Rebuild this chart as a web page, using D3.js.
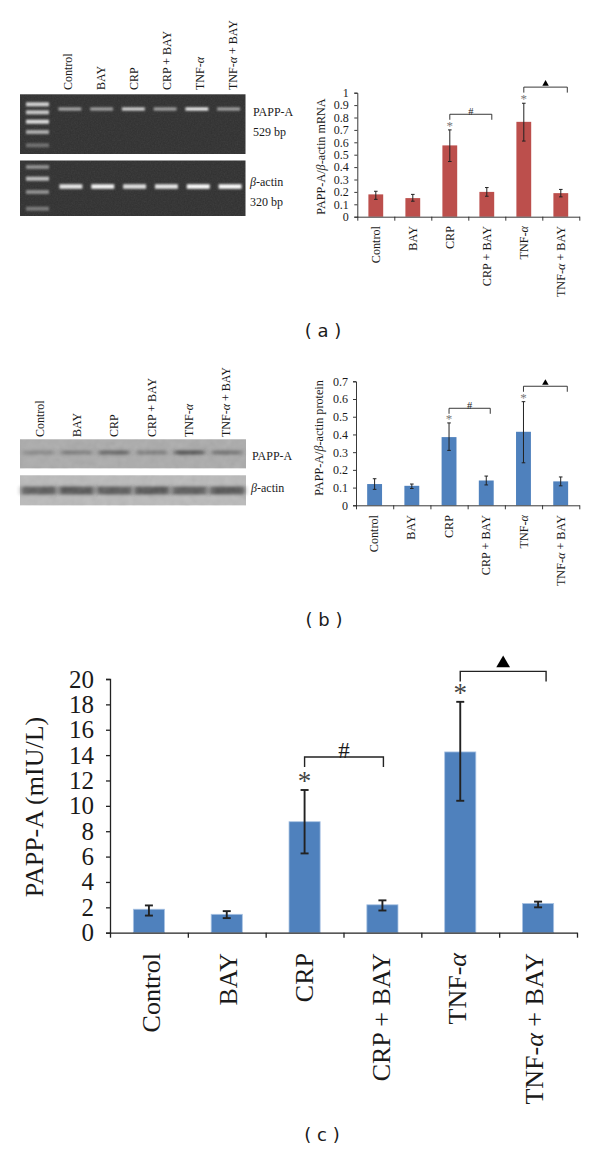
<!DOCTYPE html>
<html>
<head>
<meta charset="utf-8">
<script src="https://cdn.jsdelivr.net/npm/d3@7"></script>
<style>
  html, body { margin: 0; padding: 0; background: #fff; }
  svg { display: block; }
  text { font-family: "Liberation Serif", serif; fill: #1a1a1a; }
  .caption { font-family: "DejaVu Sans", sans-serif; }
</style>
</head>
<body>
<div id="chart"></div>
<script>
// categories, the tspans handle the italic greek letters
var categories = ["Control", "BAY", "CRP", "CRP + BAY", "TNF-α", "TNF-α + BAY"];

// (a) mRNA
var mrnaValues = [0.18, 0.15, 0.575, 0.2, 0.765, 0.19];
var mrnaHigh   = [0.205, 0.18, 0.70, 0.235, 0.915, 0.22];
var mrnaLow    = [0.14, 0.125, 0.445, 0.165, 0.61, 0.16];
var mrnaTicks  = [0, 0.1, 0.2, 0.3, 0.4, 0.5, 0.6, 0.7, 0.8, 0.9, 1];

// (b) protein
var proteinValues = [0.12, 0.11, 0.385, 0.14, 0.415, 0.135];
var proteinHigh   = [0.15, 0.12, 0.465, 0.165, 0.585, 0.16];
var proteinLow    = [0.09, 0.095, 0.31, 0.115, 0.24, 0.11];
var proteinTicks  = [0, 0.1, 0.2, 0.3, 0.4, 0.5, 0.6, 0.7];

// (c) elisa
var elisaValues = [1.85, 1.45, 8.75, 2.2, 14.25, 2.3];
var elisaHigh   = [2.15, 1.7, 11.25, 2.55, 18.2, 2.45];
var elisaLow    = [1.35, 1.15, 6.25, 1.75, 10.4, 2.0];
var elisaTicks  = [0, 2, 4, 6, 8, 10, 12, 14, 16, 18, 20];

// band intensity per lane, 0 to 1
var gelPappBands  = [0.45, 0.4, 0.8, 0.4, 1, 0.4];
var gelActinBands = [0.85, 0.95, 0.8, 0.85, 1, 1];
var ladderTop     = [0.8, 0.75, 0.85, 0.6, 0.3];
var ladderBottom  = [0.45, 0.7, 0.45, 0.35];
var blotPappBands  = [0.3, 0.42, 0.6, 0.42, 0.8, 0.5];
var blotActinBands = [0.7, 0.75, 0.7, 0.75, 0.7, 0.75];

var svg = d3.select("#chart").append("svg")
    .attr("width", 600)
    .attr("height", 1151);

var defs = svg.append("defs");
defs.append("filter").attr("id", "soft").attr("x", "-20%").attr("y", "-150%").attr("width", "140%").attr("height", "400%")
    .append("feGaussianBlur").attr("stdDeviation", "1.1 0.9");
defs.append("filter").attr("id", "softer").attr("x", "-20%").attr("y", "-100%").attr("width", "140%").attr("height", "300%")
    .append("feGaussianBlur").attr("stdDeviation", "2.5 1.6");

function grainFilter(id, freq) {
    var f = defs.append("filter").attr("id", id).attr("x", "0").attr("y", "0").attr("width", "100%").attr("height", "100%");
    f.append("feTurbulence").attr("type", "fractalNoise").attr("baseFrequency", freq).attr("numOctaves", 2).attr("seed", 4);
    f.append("feColorMatrix").attr("type", "saturate").attr("values", 0);
}
grainFilter("fine", 0.7);
grainFilter("mottled", 0.12);

// writes a label with the alpha or beta in italic
function richText(sel, label, greek) {
    var parts = label.split(greek);
    sel.append("tspan").text(parts[0]);
    sel.append("tspan").attr("font-style", "italic").text(greek);
    sel.append("tspan").text(parts[1]);
}

function catLabel(sel, d) {
    if (d.indexOf("α") >= 0) richText(sel, d, "α");
    else sel.text(d);
}

function drawBars(o) {
    var x = d3.scaleBand().domain(categories).range([o.x0, o.x1]).paddingInner(0.6).paddingOuter(0.3);
    var y = d3.scaleLinear().domain([0, o.ticks[o.ticks.length - 1]]).range([o.y0, o.y1]);
    var g = svg.append("g");

    g.selectAll("rect.bar").data(categories).enter().append("rect")
        .attr("class", "bar")
        .attr("x", d => x(d))
        .attr("width", x.bandwidth())
        .attr("y", (d, i) => y(o.values[i]))
        .attr("height", (d, i) => o.y0 - y(o.values[i]))
        .attr("fill", o.color)
        .attr("stroke", o.edge || "none")
        .attr("stroke-width", 0.8);

    // error bars
    var err = g.append("g").attr("stroke", "#222").attr("stroke-width", o.errWidth).attr("fill", "none");
    categories.forEach(function(c, i) {
        var cx = x(c) + x.bandwidth() / 2;
        err.append("line").attr("x1", cx).attr("x2", cx).attr("y1", y(o.high[i])).attr("y2", y(o.low[i]));
        err.append("line").attr("x1", cx - o.cap).attr("x2", cx + o.cap).attr("y1", y(o.high[i])).attr("y2", y(o.high[i]));
        err.append("line").attr("x1", cx - o.cap).attr("x2", cx + o.cap).attr("y1", y(o.low[i])).attr("y2", y(o.low[i]));
    });

    // y axis
    var yAxis = g.append("g").attr("transform", "translate(" + o.x0 + ",0)")
        .call(d3.axisLeft(y).tickValues(o.ticks).tickFormat(d3.format("")).tickSize(o.tick).tickPadding(o.pad));
    yAxis.selectAll("text").attr("font-size", o.tickFont).attr("font-family", "Liberation Serif").style("fill", "#1a1a1a");

    // x axis, ticks go between the bars so it runs on the band edges
    var edge = d3.scaleLinear().domain([0, categories.length]).range([o.x0, o.x1]);
    g.append("g").attr("transform", "translate(0," + o.y0 + ")")
        .call(d3.axisBottom(edge).tickValues(d3.range(0, categories.length + 1)).tickFormat("").tickSizeOuter(0).tickSizeInner(o.tick + 1));
    g.selectAll("path.domain, .tick line").attr("stroke", "#222").attr("stroke-width", o.axisWidth);

    // the labels sit a bit off the bar centres
    var catX = d3.scalePoint().domain(categories).range([o.catX0, o.catX1]);
    g.selectAll("text.cat").data(categories).enter().append("text")
        .attr("class", "cat")
        .attr("font-size", o.catFont)
        .attr("text-anchor", "end")
        .attr("transform", d => "translate(" + catX(d) + "," + (o.y0 + o.catGap) + ") rotate(-90)")
        .each(function(d) { catLabel(d3.select(this), d); });

    // y title
    var title = g.append("text")
        .attr("font-size", o.titleFont)
        .attr("text-anchor", "middle")
        .attr("transform", "translate(" + o.titleX + "," + o.titleY + ") rotate(-90)");
    if (o.title.indexOf("β") >= 0) richText(title, o.title, "β");
    else title.text(o.title);

    // significance brackets
    o.brackets.forEach(function(b) {
        var xa = x(categories[b.from]) + x.bandwidth() / 2,
            xb = x(categories[b.to]) + x.bandwidth() / 2 + b.end;
        var top = y(b.level), drop = top + o.drop;
        g.append("path")
            .attr("d", "M" + xa + "," + drop + "V" + top + "H" + xb + "V" + drop)
            .attr("fill", "none").attr("stroke", "#222").attr("stroke-width", o.bracketWidth);
        var midx = (xa + xb) / 2;
        if (b.mark == "#") {
            g.append("text").attr("x", midx).attr("y", top + o.hashDy).attr("text-anchor", "middle")
                .attr("font-size", o.hashFont).text("#");
        } else {
            g.append("path")
                .attr("d", d3.symbol(d3.symbolTriangle, o.triSize))
                .attr("transform", "translate(" + midx + "," + (top - o.triDy) + ")")
                .attr("fill", "#000");
        }
        g.append("text").attr("x", xa).attr("y", y(b.star)).attr("text-anchor", "middle")
            .attr("font-size", o.starFont).style("fill", o.starColor).text("*");
    });
}

drawBars({
    values: mrnaValues, high: mrnaHigh, low: mrnaLow, ticks: mrnaTicks,
    color: "#bc4f4c", title: "PAPP-A/β-actin mRNA",
    x0: 357.3, x1: 579.3, y0: 216.7, y1: 92.7,
    tick: 3, pad: 5.5, tickFont: 12, catFont: 12.2, catGap: 9.3, catX0: 380, catX1: 565,
    titleFont: 12.2, titleX: 325, titleY: 156.5,
    errWidth: 1, cap: 1.8, axisWidth: 0.9,
    brackets: [{from: 2, to: 3, level: 0.826, mark: "#", star: 0.70, end: 5},
               {from: 4, to: 5, level: 1.045, mark: "t", star: 0.915, end: 6.5}],
    drop: 5.5, bracketWidth: 0.9, hashDy: 0.5, hashFont: 10.5, triSize: 18, triDy: 3.3,
    starFont: 13, starColor: "#777"
});

drawBars({
    values: proteinValues, high: proteinHigh, low: proteinLow, ticks: proteinTicks,
    color: "#4f81bd", title: "PAPP-A/β-actin protein",
    x0: 356, x1: 579.3, y0: 505.3, y1: 381.3,
    tick: 3, pad: 5, tickFont: 12, catFont: 12.2, catGap: 9.7, catX0: 377.7, catX1: 565,
    titleFont: 12.2, titleX: 323, titleY: 438,
    errWidth: 1, cap: 1.8, axisWidth: 0.9,
    brackets: [{from: 2, to: 3, level: 0.5476, mark: "#", star: 0.465, end: 4},
               {from: 4, to: 5, level: 0.672, mark: "t", star: 0.585, end: 6.6}],
    drop: 5.5, bracketWidth: 0.9, hashDy: 0.5, hashFont: 10.5, triSize: 18, triDy: 3.3,
    starFont: 13, starColor: "#777"
});

drawBars({
    values: elisaValues, high: elisaHigh, low: elisaLow, ticks: elisaTicks,
    color: "#4f81bd", edge: "#a9c3e3", title: "PAPP-A (mIU/L)",
    x0: 110, x1: 577, y0: 932.7, y1: 679,
    tick: 4, pad: 12, tickFont: 25, catFont: 26, catGap: 20.3, catX0: 160, catX1: 543,
    titleFont: 26, titleX: 42.5, titleY: 807,
    errWidth: 1.9, cap: 4, axisWidth: 1.3,
    brackets: [{from: 2, to: 3, level: 13.85, mark: "#", star: 11.25, end: 1},
               {from: 4, to: 5, level: 20.6, mark: "t", star: 18.2, end: 8}],
    drop: 10, bracketWidth: 1.4, hashDy: 1, hashFont: 23, triSize: 82, triDy: 8,
    starFont: 27, starColor: "#444"
});

// gel panel, light bands on dark
function drawGel(x0, x1, y0, y1, ladder, ladderY, bands, bandY, bandH, laneX0, laneX1) {
    svg.append("rect").attr("x", x0).attr("y", y0).attr("width", x1 - x0).attr("height", y1 - y0).attr("fill", "#303030");
    var lane = d3.scaleBand().domain(categories).range([laneX0, laneX1]).paddingInner(0.28).paddingOuter(0.14);
    var glow = d3.scaleLinear().domain([0, 1]).range([0.3, 1]);
    svg.selectAll(null).data(ladder).enter().append("rect")
        .attr("x", x0 + 6).attr("width", 23)
        .attr("y", (d, i) => ladderY[i] - 2).attr("height", 4)
        .attr("fill", "#fff").attr("opacity", d => d).attr("filter", "url(#soft)");
    svg.selectAll(null).data(bands).enter().append("rect")
        .attr("x", (d, i) => lane(categories[i]))
        .attr("width", lane.bandwidth())
        .attr("y", bandY - bandH / 2).attr("height", bandH)
        .attr("fill", "#fff").attr("opacity", d => glow(d)).attr("filter", "url(#soft)");
    svg.append("rect").attr("x", x0).attr("y", y0).attr("width", x1 - x0).attr("height", y1 - y0)
        .attr("filter", "url(#fine)").attr("opacity", 0.1);
}

drawGel(20, 245.5, 94.3, 154, ladderTop, [104.3, 112.3, 121.7, 132, 145.3], gelPappBands, 109, 3, 54, 244.5);
drawGel(20, 245.5, 160.5, 216, ladderBottom, [167, 178.7, 192, 208.7], gelActinBands, 186.5, 4.5, 55, 246);

// western blot panel, dark bands on grey
function drawBlot(x0, x1, y0, y1, fill, bands, bandY, bandH, inner) {
    svg.append("rect").attr("x", x0).attr("y", y0).attr("width", x1 - x0).attr("height", y1 - y0).attr("fill", fill);
    var lane = d3.scaleBand().domain(categories).range([x0, x1]).paddingInner(inner).paddingOuter(inner / 2);
    svg.selectAll(null).data(bands).enter().append("rect")
        .attr("x", (d, i) => lane(categories[i]))
        .attr("width", lane.bandwidth())
        .attr("y", bandY - bandH / 2).attr("height", bandH)
        .attr("fill", "#333").attr("opacity", d => d).attr("filter", "url(#softer)");
    svg.append("rect").attr("x", x0).attr("y", y0).attr("width", x1 - x0).attr("height", y1 - y0)
        .attr("filter", "url(#mottled)").attr("opacity", 0.18);
}

drawBlot(20, 246, 439.3, 468.3, "#ababab", blotPappBands, 452.5, 4, 0.2);
drawBlot(20, 246, 475.3, 505.3, "#bababa", blotActinBands, 490.5, 8, 0.08);

// rotated lane labels above the blots
function laneLabels(xs, bottom) {
    svg.selectAll(null).data(categories).enter().append("text")
        .attr("font-size", 12)
        .attr("text-anchor", "start")
        .attr("transform", (d, i) => "translate(" + xs(d) + "," + bottom + ") rotate(-90)")
        .each(function(d) { catLabel(d3.select(this), d); });
}
laneLabels(d3.scalePoint().domain(categories).range([72, 237]), 90);
laneLabels(d3.scalePoint().domain(categories).range([44, 230]), 437);

function sideLabel(x, y, parts) {
    var t = svg.append("text").attr("x", x).attr("y", y).attr("font-size", 12);
    if (parts.indexOf("β") >= 0) richText(t, parts, "β");
    else t.text(parts);
}
sideLabel(253, 115.7, "PAPP-A");
sideLabel(253, 135.7, "529 bp");
sideLabel(250, 186, "β-actin");
sideLabel(250, 206, "320 bp");
sideLabel(252, 460, "PAPP-A");
sideLabel(251, 492, "β-actin");

// panel captions
[["( a )", 323, 337], ["( b )", 324, 626], ["( c )", 322, 1141]].forEach(function(c) {
    svg.append("text").attr("class", "caption").attr("x", c[1]).attr("y", c[2])
        .attr("text-anchor", "middle").attr("font-size", 18).text(c[0]);
});
</script>
</body>
</html>
